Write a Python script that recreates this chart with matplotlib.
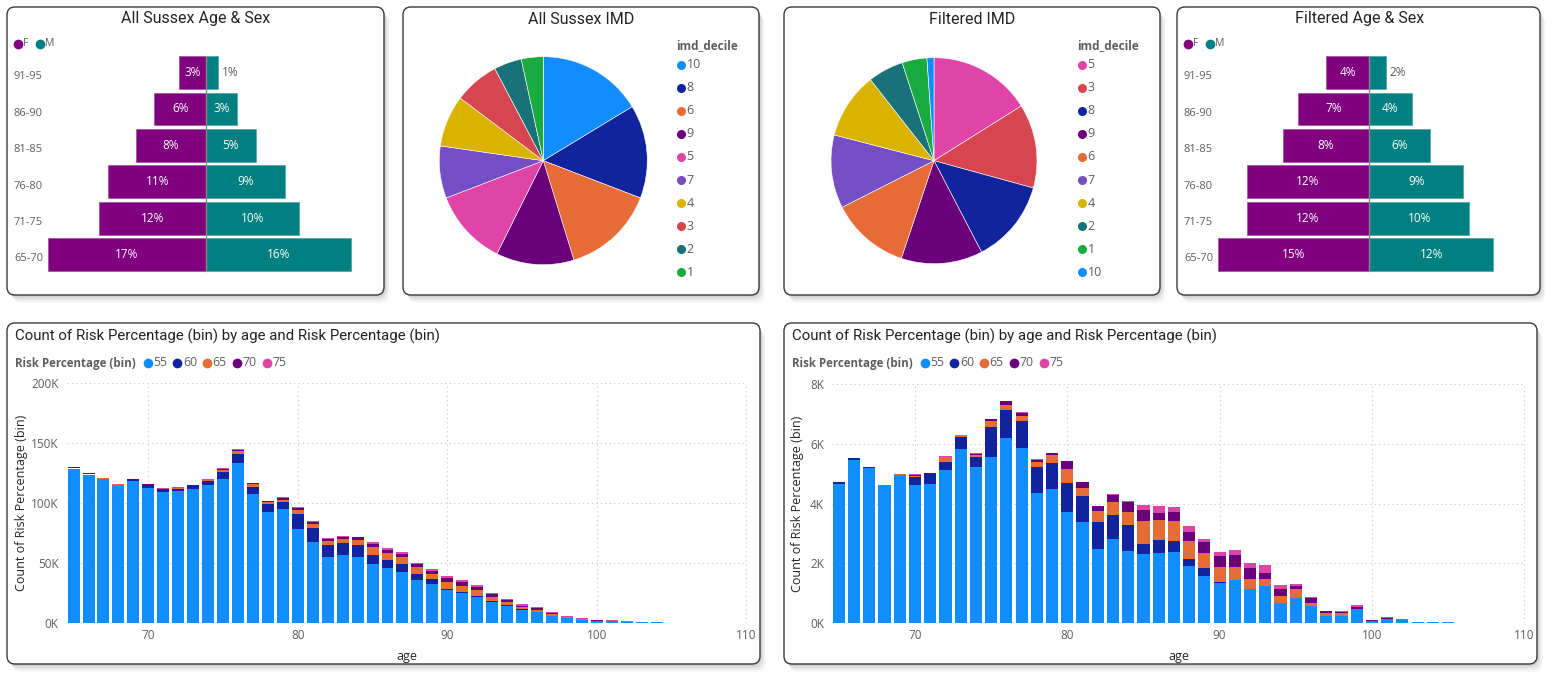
import numpy as np
import matplotlib
matplotlib.use("Agg")
import matplotlib.pyplot as plt
from matplotlib.patches import FancyBboxPatch

# ---------------- data ----------------
age_groups = ["65-70", "71-75", "76-80", "81-85", "86-90", "91-95"]
all_female = [17.2, 11.6, 10.6, 7.6, 5.6, 2.9]
all_male = [15.8, 10.1, 8.6, 5.4, 3.4, 1.3]
filt_female = [14.7, 11.9, 11.9, 8.4, 6.9, 4.2]
filt_male = [12.0, 9.7, 9.1, 5.9, 4.1, 1.6]

all_imd_deciles = ["10", "8", "6", "9", "5", "7", "4", "3", "2", "1"]
all_imd_share = [16.3, 14.5, 14.4, 12.1, 11.8, 8.1, 8.0, 7.0, 4.3, 3.4]
filt_imd_deciles = ["5", "3", "8", "9", "6", "7", "4", "2", "1", "10"]
filt_imd_share = [16.1, 13.2, 13.1, 12.8, 12.4, 11.5, 10.4, 5.6, 3.9, 1.1]

risk_bins = ["55", "60", "65", "70", "75"]
ages = list(range(65, 108))

# All Sussex counts, thousands
all_55 = [129, 124, 120, 115, 118.6, 113, 109.4, 110, 111.7, 115.5,
          120, 133.9, 107.5, 92.8, 95, 78.4, 68, 55.3, 56.7, 55,
          49.7, 45.8, 42.5, 35.8, 32.5, 27.5, 25, 21.9, 17.8, 14.2,
          10.8, 9.4, 6.1, 4.2, 2.8, 1.9, 1.7, 1.4, 1.2, 0.7,
          0.4, 0.25, 0.15]
all_60 = [0.5, 0.5, 0.5, 0.6, 0.7, 2.0, 2.2, 2.2, 2.6, 3.3,
          6.4, 7.2, 6.4, 6.7, 5.8, 12.5, 11.4, 9.7, 10.0, 10.3,
          7.2, 6.9, 6.9, 5.6, 4.4, 1.4, 1.4, 1.1, 0.8, 0.8,
          0.8, 0.3, 0.2, 0.1, 0.1, 0.05, 0.03, 0.02, 0.01, 0,
          0, 0, 0]
all_65 = [0.3, 0.3, 0.3, 0.3, 0.3, 0.4, 0.4, 0.4, 0.5, 0.6,
          1.7, 2.5, 2.2, 1.7, 2.2, 3.9, 3.6, 3.6, 3.6, 4.2,
          6.4, 5.8, 5.6, 5.3, 4.4, 5.3, 4.7, 4.4, 3.3, 2.5,
          1.7, 1.7, 1.4, 0.8, 0.4, 0.3, 0.2, 0.1, 0.05, 0.02,
          0.01, 0, 0]
all_70 = [0.3, 0.3, 0.2, 0.2, 0.3, 0.3, 0.3, 0.3, 0.4, 0.4,
          0.8, 0.9, 0.4, 0.6, 1.4, 1.4, 1.5, 1.7, 1.8, 2.1,
          2.8, 2.5, 2.5, 2.5, 2.5, 3.6, 3.0, 2.5, 2.2, 1.7,
          1.1, 1.1, 0.8, 0.5, 0.5, 0.4, 0.2, 0.1, 0.1, 0.05,
          0.02, 0.01, 0]
all_75 = [0.3, 0.3, 0.3, 0.3, 0.3, 0.3, 0.3, 0.4, 0.4, 0.4,
          0.6, 0.5, 0.5, 0.3, 0.5, 0.5, 0.5, 0.5, 0.6, 0.6,
          1.4, 1.4, 1.7, 1.4, 1.4, 1.4, 1.7, 1.7, 1.4, 1.1,
          1.4, 0.8, 0.6, 0.3, 0.9, 0.4, 0.3, 0.2, 0.1, 0.05,
          0.02, 0.01, 0.01]

# Filtered counts, thousands
filt_55 = [4.67, 5.46, 5.18, 4.61, 4.95, 4.61, 4.66, 5.11, 5.83, 5.23,
           5.56, 6.20, 5.86, 4.35, 4.49, 3.72, 3.40, 2.50, 2.81, 2.43,
           2.31, 2.36, 2.37, 1.93, 1.58, 1.36, 1.45, 1.15, 1.26, 0.69,
           0.84, 0.59, 0.25, 0.23, 0.48, 0.08, 0.13, 0.10, 0.06, 0.04,
           0.04, 0, 0]
filt_60 = [0.04, 0.05, 0.04, 0.02, 0.02, 0.29, 0.32, 0.29, 0.41, 0.33,
           1.01, 0.92, 0.90, 0.89, 0.87, 0.98, 0.84, 0.87, 0.82, 0.84,
           0.35, 0.42, 0.38, 0.22, 0.26, 0.01, 0.01, 0.01, 0, 0,
           0, 0, 0, 0, 0, 0, 0, 0, 0, 0,
           0, 0, 0]
filt_65 = [0.03, 0, 0, 0, 0.01, 0.04, 0.02, 0.16, 0.05, 0.06,
           0.20, 0.17, 0.16, 0.14, 0.25, 0.47, 0.27, 0.39, 0.42, 0.46,
           0.77, 0.69, 0.67, 0.61, 0.50, 0.51, 0.42, 0.33, 0.23, 0.22,
           0.31, 0.08, 0.10, 0.10, 0, 0, 0, 0, 0, 0,
           0, 0, 0]
filt_70 = [0, 0.01, 0.01, 0, 0, 0.02, 0.01, 0.01, 0, 0.05,
           0.05, 0.14, 0.10, 0.08, 0.07, 0.26, 0.20, 0.15, 0.24, 0.33,
           0.37, 0.23, 0.31, 0.29, 0.37, 0.36, 0.39, 0.36, 0.20, 0.23,
           0.11, 0.16, 0.06, 0.06, 0.08, 0.03, 0.05, 0, 0, 0,
           0, 0, 0]
filt_75 = [0, 0, 0, 0, 0, 0.02, 0.01, 0.02, 0.01, 0.01,
           0.01, 0, 0.03, 0.02, 0.01, 0.01, 0.01, 0.01, 0.02, 0.02,
           0.17, 0.21, 0.17, 0.20, 0.11, 0.16, 0.17, 0.18, 0.25, 0.13,
           0.06, 0.04, 0.01, 0.01, 0.04, 0.01, 0.02, 0.04, 0, 0,
           0, 0.02, 0]

# ---------------- style ----------------
W, H = 1560, 678
plt.rcParams['font.family'] = ['Open Sans', 'DejaVu Sans']
TITLE_FONT = ['Roboto', 'DejaVu Sans']
TXT = '#252423'
GRAY = '#605E5C'
F_COL, M_COL = '#800080', '#008080'
decile_colors = {'10': '#118DFF', '8': '#12239E', '6': '#E66C37', '9': '#6B007B',
                 '5': '#E044A7', '7': '#744EC2', '4': '#D9B300', '3': '#D64550',
                 '2': '#197278', '1': '#1AAB40'}
risk_colors = ['#118DFF', '#12239E', '#E66C37', '#6B007B', '#E044A7']

fig = plt.figure(figsize=(W / 100, H / 100), dpi=100)
fig.patch.set_facecolor('white')

# background layer in pixel coordinates for the cards
bg = fig.add_axes([0, 0, 1, 1], zorder=0)
bg.set_xlim(0, W)
bg.set_ylim(H, 0)
bg.axis('off')


def px_axes(x0, y0, x1, y1):
    ax = fig.add_axes([x0 / W, 1 - y1 / H, (x1 - x0) / W, (y1 - y0) / H], zorder=2)
    ax.set_facecolor('none')
    return ax


def card(x0, y0, x1, y1):
    for off, a in [(8, 0.03), (6, 0.045), (4, 0.06), (2, 0.07)]:
        bg.add_patch(FancyBboxPatch((x0 + off * 0.7, y0 + off), x1 - x0, y1 - y0,
                                    boxstyle="round,pad=0,rounding_size=9",
                                    fc='black', ec='none', alpha=a))
    bg.add_patch(FancyBboxPatch((x0, y0), x1 - x0, y1 - y0,
                                boxstyle="round,pad=0,rounding_size=8",
                                fc='white', ec='#3b3a39', lw=1.0))


def dot(x, y, c, ms=6):
    bg.plot([x], [y], 'o', ms=ms, color=c, mec='none')


cards = [(7, 7, 384, 295), (403, 7, 759, 295), (784, 7, 1160, 295),
         (1177, 7, 1540, 295), (7, 323, 760, 664), (784, 323, 1537, 664)]
for c in cards:
    card(*c)


# ---------------- pyramids ----------------
def pyramid(left, x0, x1, center, scale, fem, male, title, tx):
    bg.text(tx, 19, title, ha='center', va='center', fontsize=11.5, color=TXT,
            family=TITLE_FONT)
    # legend
    dot(left + 11, 44, F_COL, 7)
    bg.text(left + 16, 44, 'F', fontsize=7.5, color=GRAY, va='center')
    dot(left + 33, 44, M_COL, 7)
    bg.text(left + 38.5, 44, 'M', fontsize=7.5, color=GRAY, va='center')

    ax = px_axes(x0, 50, x1, 280)
    ypos = np.arange(len(age_groups))
    fem = np.array(fem)
    male = np.array(male)
    ax.barh(ypos, -fem, height=0.9, color=F_COL, edgecolor='#a557a5', lw=0.6)
    ax.barh(ypos, male, height=0.9, color=M_COL, edgecolor='#55a8a8', lw=0.6)
    ax.plot([0, 0], [ypos[0] - 0.45, ypos[-1] + 0.45], color='#8a8886', lw=1)
    ax.set_xlim((x0 - center) / scale, (x1 - center) / scale)
    ax.set_ylim(-0.70, 5.62)
    ax.axis('off')
    ytr = ax.get_yaxis_transform()
    for i, g in enumerate(age_groups):
        ax.text((left + 7 - x0) / (x1 - x0), ypos[i] - 0.12, g, transform=ytr,
                ha='left', va='center', fontsize=8, color=GRAY)
        ax.text(-fem[i] / 2, ypos[i], f"{fem[i]:.0f}%", ha='center', va='center',
                fontsize=8.5, color='white')
        if male[i] * scale < 20:
            ax.text(male[i] + 4 / scale, ypos[i], f"{male[i]:.0f}%", ha='left',
                    va='center', fontsize=8.5, color=GRAY)
        else:
            ax.text(male[i] / 2, ypos[i], f"{male[i]:.0f}%", ha='center',
                    va='center', fontsize=8.5, color='white')


pyramid(7, 12, 372, 206, 9.2, all_female, all_male, 'All Sussex Age & Sex', 196)
pyramid(1177, 1182, 1528, 1369.3, 10.3, filt_female, filt_male,
        'Filtered Age & Sex', 1359.5)


# ---------------- pies ----------------
def pie(cx, cy, r, deciles, share, title, tx, leg_x):
    bg.text(tx, 19, title, ha='center', va='center', fontsize=11.5, color=TXT,
            family=TITLE_FONT)
    ax = px_axes(cx - r, cy - r, cx + r, cy + r)
    ax.pie(share, colors=[decile_colors[d] for d in deciles], startangle=90,
           counterclock=False, radius=1,
           wedgeprops=dict(edgecolor='white', linewidth=0.4))
    ax.set_xlim(-1, 1)
    ax.set_ylim(-1, 1)
    bg.text(leg_x - 5, 46, 'imd_decile', fontsize=8.5, fontweight='bold',
            color=GRAY, va='center')
    for i, d in enumerate(deciles):
        yy = 64.5 + i * 23.1
        dot(leg_x, yy, decile_colors[d], 6.5)
        bg.text(leg_x + 5.5, yy, d, fontsize=9, color=GRAY, va='center')


pie(543.3, 160.7, 104, all_imd_deciles, all_imd_share, 'All Sussex IMD', 581, 681)
pie(934, 160.7, 103, filt_imd_deciles, filt_imd_share, 'Filtered IMD', 972, 1082)


# ---------------- stacked bars ----------------
def stacked(card_x, ax_box, xlim, ymax, yticks, series, ylab_x):
    x0, y0, x1, y1 = ax_box
    bg.text(card_x + 8, 336, 'Count of Risk Percentage (bin) by age and Risk Percentage (bin)',
            ha='left', va='center', fontsize=10.8, color=TXT, family=TITLE_FONT)
    bg.text(card_x + 8, 363, 'Risk Percentage (bin)', ha='left', va='center',
            fontsize=8.3, fontweight='bold', color=GRAY)
    for i, b in enumerate(risk_bins):
        lx = card_x + 140.5 + i * 29.8
        dot(lx, 363, risk_colors[i], 7)
        bg.text(lx + 5.5, 363, b, fontsize=8.8, color=GRAY, va='center')

    ax = px_axes(x0, y0, x1, y1)
    bottom = np.zeros(len(ages))
    for vals, col in zip(series, risk_colors):
        v = np.array(vals) * 1000
        ax.bar(ages, v, bottom=bottom, width=0.8, color=col, linewidth=0)
        bottom += v
    ax.set_xlim(*xlim)
    ax.set_ylim(0, ymax)
    ax.set_xticks([70, 80, 90, 100, 110])
    ax.set_yticks(yticks)
    ax.set_yticklabels([f"{t / 1000:.0f}K" for t in yticks])
    ax.tick_params(length=0, labelsize=8.5, colors=GRAY)
    ax.tick_params(axis='y', pad=6)
    ax.tick_params(axis='x', pad=4)
    for s in ax.spines.values():
        s.set_visible(False)
    ax.grid(True, color='#C8C6C4', lw=0.8, linestyle=(0, (1, 3)))
    ax.set_axisbelow(True)
    ax.set_xlabel('age', fontsize=9, color=TXT)
    ax.xaxis.set_label_coords(0.5, -0.11)
    ax.set_ylabel('Count of Risk Percentage (bin)', fontsize=9, color=TXT)
    ax.yaxis.set_label_coords(ylab_x, 0.5)


stacked(7, (66.7, 383.3, 747, 623.3), (64.54, 110.05), 200000,
        [0, 50000, 100000, 150000, 200000],
        [all_55, all_60, all_65, all_70, all_75], -0.057)
stacked(784, (832.3, 384, 1525, 623.3), (64.57, 110.05), 8000,
        [0, 2000, 4000, 6000, 8000],
        [filt_55, filt_60, filt_65, filt_70, filt_75], -0.041)

fig.savefig('out.png', dpi=100, facecolor='white')
